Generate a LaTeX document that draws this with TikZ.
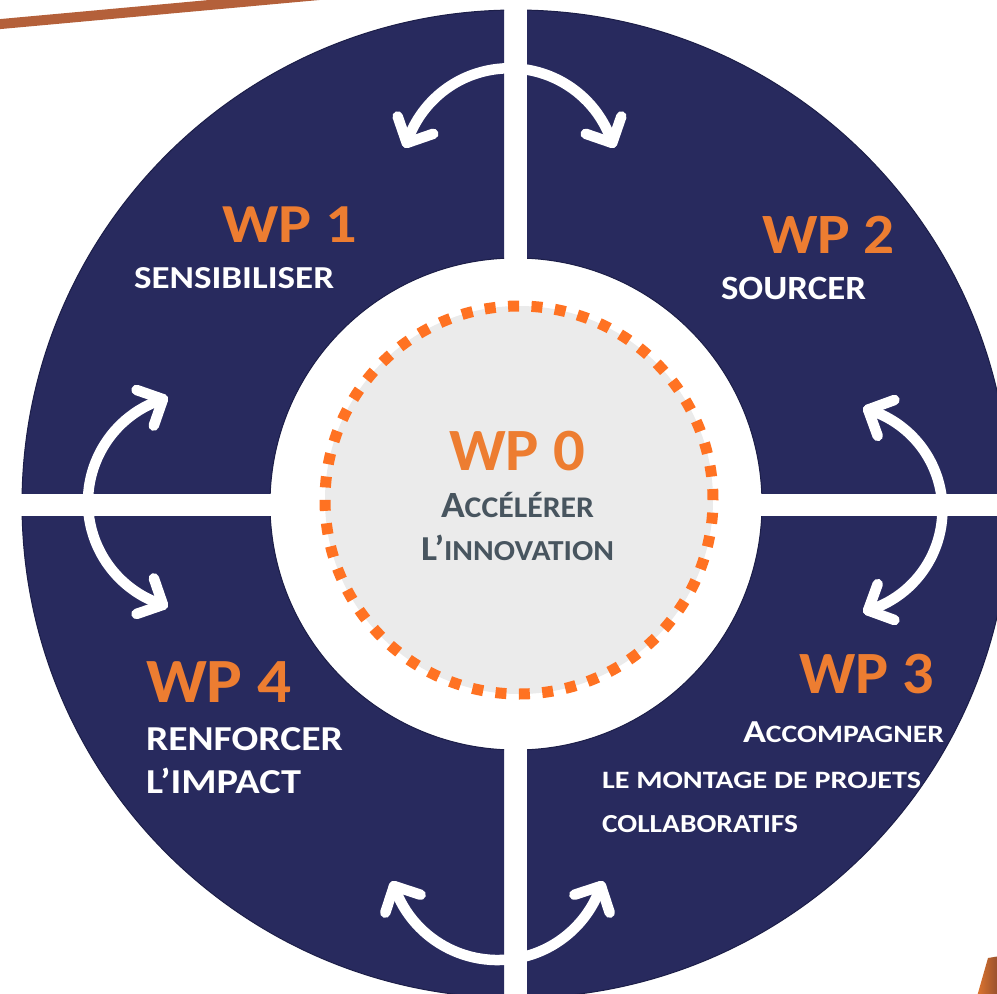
\documentclass[tikz,border=0pt]{standalone}
\usepackage{fontspec}
\setmainfont{Carlito}
\usetikzlibrary{calc}
\definecolor{navyc}{HTML}{282A5E}
\definecolor{navyedge}{HTML}{1C1E48}
\definecolor{wporange}{HTML}{ED7D31}
\definecolor{dotorange}{HTML}{FF7222}
\definecolor{diskgray}{HTML}{EBEBEB}
\definecolor{slate}{HTML}{48555F}
\definecolor{brownline}{HTML}{B4603A}
\tikzset{
  quad/.style={fill=navyc, draw=navyedge, line width=1pt, even odd rule},
  arrowline/.style={draw=white, line width=10.5pt, line cap=round, line join=round},
  lbl/.style={anchor=base west, inner sep=0pt, outer sep=0pt, font=\bfseries},
}
\newcommand{\fs}[1]{\fontsize{#1}{#1}\selectfont}
\begin{document}
\begin{tikzpicture}[x=1pt,y=1pt]
\clip (0,0) rectangle (997,-994);
\fill[white] (0,0) rectangle (997,-994);
% decorative brown line top-left
\draw[brownline, line width=10pt] (-10,-25) -- (330,6);
% four quadrants
\coordinate (O) at (516,-504);
\begin{scope}
  \clip (-10,10) rectangle (504,-493);
  \path[quad] (O) circle[radius=494] (O) circle[radius=246];
\end{scope}
\begin{scope}
  \clip (527,10) rectangle (1010,-493);
  \path[quad] (O) circle[radius=494] (O) circle[radius=246];
\end{scope}
\begin{scope}
  \clip (-10,-516) rectangle (504,-1010);
  \path[quad] (O) circle[radius=494] (O) circle[radius=246];
\end{scope}
\begin{scope}
  \clip (527,-516) rectangle (1010,-1010);
  \path[quad] (O) circle[radius=494] (O) circle[radius=246];
\end{scope}
% central disk
\coordinate (D) at (519,-500);
\fill[diskgray] (D) circle[radius=194];
\draw[dotorange, line width=11pt, dash pattern=on 11pt off 12.44pt] (D) circle[radius=194];
% curved double arrows
\coordinate (c1) at (509.5,-176.3);
\coordinate (c2) at (837.4,-510);
\coordinate (c3) at (497.5,-850.6);
\coordinate (c4) at (196,-502);
% top
\coordinate (t1a) at ($(c1)+(18:108)$);
\coordinate (t1b) at ($(c1)+(162:108)$);
\draw[arrowline] (t1a) arc[start angle=18, end angle=162, radius=108];
\draw[arrowline] ($(t1b)+(19:28)$) -- (t1b) -- ($(t1b)+(109:28)$);
\draw[arrowline] ($(t1a)+(71:28)$) -- (t1a) -- ($(t1a)+(161:28)$);
% right
\coordinate (t2a) at ($(c2)+(-73:105)$);
\coordinate (t2b) at ($(c2)+(73:105)$);
\draw[arrowline] (t2a) arc[start angle=-73, end angle=73, radius=105];
\draw[arrowline] ($(t2b)+(20:28)$) -- (t2b) -- ($(t2b)+(-70:28)$);
\draw[arrowline] ($(t2a)+(70:28)$) -- (t2a) -- ($(t2a)+(-20:28)$);
% bottom
\coordinate (t3a) at ($(c3)+(198.9:109.4)$);
\coordinate (t3b) at ($(c3)+(341.1:109.4)$);
\draw[arrowline] (t3a) arc[start angle=198.9, end angle=341.1, radius=109.4];
\draw[arrowline] ($(t3b)+(198.1:28)$) -- (t3b) -- ($(t3b)+(288.1:28)$);
\draw[arrowline] ($(t3a)+(251.9:28)$) -- (t3a) -- ($(t3a)+(341.9:28)$);
% left
\coordinate (t4a) at ($(c4)+(107.8:108)$);
\coordinate (t4b) at ($(c4)+(252.2:108)$);
\draw[arrowline] (t4a) arc[start angle=107.8, end angle=252.2, radius=108];
\draw[arrowline] ($(t4b)+(199:28)$) -- (t4b) -- ($(t4b)+(109:28)$);
\draw[arrowline] ($(t4a)+(160.8:28)$) -- (t4a) -- ($(t4a)+(250.8:28)$);
% labels
\node[lbl, text=wporange] (wp0) at (449,-470) {\resizebox{136pt}{\height}{\fs{60}WP 0}};
\node[lbl, text=slate] (wp0a) at (441,-517) {\resizebox{153pt}{\height}{\fs{37}A\fs{30}CCÉLÉRER}};
\node[lbl, text=slate] (wp0b) at (421,-560) {\resizebox{193pt}{\height}{\fs{35}L’\fs{29}INNOVATION}};
\node[lbl, text=wporange] (wp1) at (222,-242) {\resizebox{135pt}{\height}{\fs{55}WP 1}};
\node[lbl, text=white] (wp1a) at (134,-288) {\resizebox{200pt}{\height}{\fs{32}SENSIBILISER}};
\node[lbl, text=wporange] (wp2) at (762,-253) {\resizebox{133pt}{\height}{\fs{57}WP 2}};
\node[lbl, text=white] (wp2a) at (721,-299) {\resizebox{145pt}{\height}{\fs{34}SOURCER}};
\node[lbl, text=wporange] (wp3) at (799,-693) {\resizebox{135pt}{\height}{\fs{60}WP 3}};
\node[lbl, text=white] (wp3a) at (743,-742) {\resizebox{201pt}{\height}{\fs{32}A\fs{25}CCOMPAGNER}};
\node[lbl, text=white] (wp3b) at (602,-788) {\resizebox{319pt}{\height}{\fs{25}LE MONTAGE DE PROJETS}};
\node[lbl, text=white] (wp3c) at (602,-832) {\resizebox{196pt}{\height}{\fs{26}COLLABORATIFS}};
\node[lbl, text=wporange] (wp4) at (146,-702) {\resizebox{146pt}{\height}{\fs{63}WP 4}};
\node[lbl, text=white] (wp4a) at (146,-750) {\resizebox{197pt}{\height}{\fs{35}RENFORCER}};
\node[lbl, text=white] (wp4b) at (146,-793) {\resizebox{155pt}{\height}{\fs{35}L’IMPACT}};
% bottom-right orange shape
\shade[left color=wporange!95!black, right color=brownline!80!black]
  (976,-1000) -- (988,-958) -- (1000,-956) -- (1000,-1000) -- cycle;
\end{tikzpicture}
\end{document}
